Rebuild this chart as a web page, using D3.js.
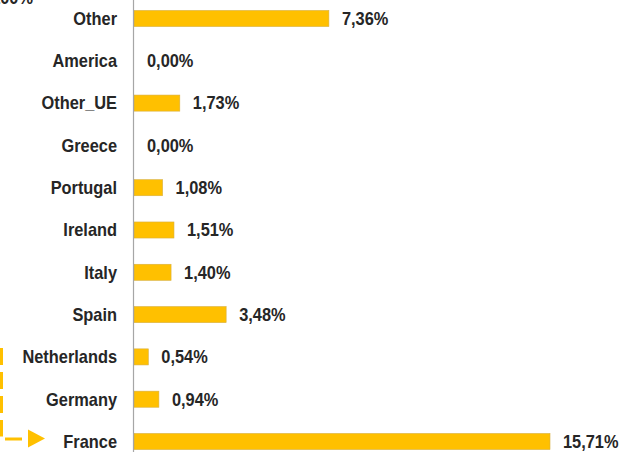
<!DOCTYPE html>
<meta charset="utf-8">
<style>
body { margin: 0; background: #fff; }
svg { display: block; }
.lbl, .val {
  font-family: "Liberation Sans", Arial, sans-serif;
  font-weight: bold;
  font-size: 18px;
  fill: #262626;
}
</style>
<body>
<script src="https://d3js.org/d3.v7.min.js"></script>
<script>
// countries, top to bottom
var countries = ["Other", "America", "Other_UE", "Greece", "Portugal", "Ireland", "Italy", "Spain", "Netherlands", "Germany", "France"]
var shares = [7.36, 0.00, 1.73, 0.00, 1.08, 1.51, 1.40, 3.48, 0.54, 0.94, 15.71]
var valueLabels = ["7,36%", "0,00%", "1,73%", "0,00%", "1,08%", "1,51%", "1,40%", "3,48%", "0,54%", "0,94%", "15,71%"]

var width = 631, height = 452
var x0 = 134
var squeeze = 0.91   // the original font is a bit condensed

var svg = d3.select("body").append("svg")
    .attr("width", width)
    .attr("height", height)

var x = d3.scaleLinear().domain([0, 15.71]).range([x0, 550])
var y = d3.scaleBand().domain(countries).range([-2.65, 462.65])
    .paddingInner(0.62).paddingOuter(0.31)

var data = countries.map(function(c, i) { return {name: c, v: shares[i], t: valueLabels[i]} })
var mid = d => y(d.name) + y.bandwidth() / 2

// cut-off label at the very top
svg.append("text").attr("class", "lbl")
    .attr("transform", "translate(33,4) scale(" + squeeze + ",1)")
    .attr("text-anchor", "end")
    .text("100%")

// bars
svg.selectAll(".bar").data(data.filter(d => d.v > 0))
  .enter().append("rect")
    .attr("class", "bar")
    .attr("x", x0)
    .attr("y", d => y(d.name))
    .attr("width", d => x(d.v) - x0)
    .attr("height", y.bandwidth())
    .attr("fill", "#FFC000")
    .attr("stroke", "#d8b040")
    .attr("stroke-width", 0.6)

// axis line
svg.append("line")
    .attr("x1", x0 - 0.5).attr("x2", x0 - 0.5)
    .attr("y1", 0).attr("y2", height)
    .attr("stroke", "#a6a6a6")
    .attr("stroke-width", 1.2)

// category labels
svg.selectAll(".cat").data(data)
  .enter().append("text")
    .attr("class", "lbl cat")
    .attr("transform", d => "translate(117," + mid(d) + ") scale(" + squeeze + ",1)")
    .attr("dy", "0.35em")
    .attr("text-anchor", "end")
    .text(d => d.name)

// value labels
svg.selectAll(".val").data(data)
  .enter().append("text")
    .attr("class", "val")
    .attr("transform", d => "translate(" + (x(d.v) + 13) + "," + mid(d) + ") scale(" + squeeze + ",1)")
    .attr("dy", "0.35em")
    .text(d => d.t)

// dashed arrow pointing at France
var fy = mid(data[data.length - 1])
var arrow = svg.append("g").attr("fill", "#FFC000").attr("stroke", "#FFC000")
arrow.append("line")
    .attr("x1", 1.5).attr("x2", 1.5)
    .attr("y1", 348).attr("y2", fy - 5)
    .attr("stroke-width", 3)
    .attr("stroke-dasharray", "17,7")
arrow.append("line")
    .attr("x1", 5).attr("x2", 22)
    .attr("y1", fy - 2.5).attr("y2", fy - 2.5)
    .attr("stroke-width", 3)
arrow.append("path")
    .attr("stroke", "none")
    .attr("d", "M28," + (fy - 12) + "L45," + (fy - 3) + "L28," + (fy + 6) + "Z")
</script>
</body>
